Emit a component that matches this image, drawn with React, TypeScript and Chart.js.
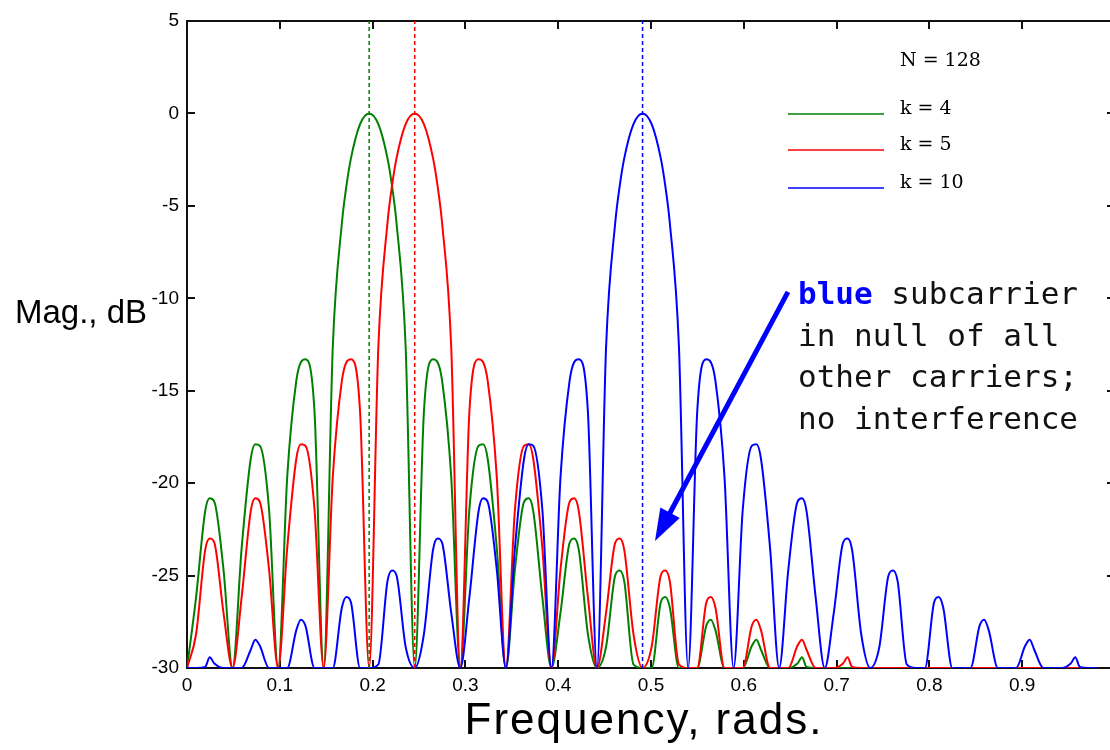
import React, { useEffect, useRef } from 'react';
import { Chart, registerables } from 'chart.js';

Chart.register(...registerables);

// ---------- data ----------
// frequency samples, rads (shared by all three sub-carriers)
const FREQ = [
  0, 0.0098, 0.0196, 0.0245, 0.0295, 0.0393,
  0.0491, 0.0589, 0.0687, 0.0736, 0.0785, 0.0884,
  0.0982, 0.1080, 0.1178, 0.1227, 0.1276, 0.1374,
  0.1473, 0.1571, 0.1669, 0.1718, 0.1767, 0.1865,
  0.1963, 0.2062, 0.2160, 0.2209, 0.2258, 0.2356,
  0.2454, 0.2553, 0.2651, 0.2700, 0.2749, 0.2847,
  0.2945, 0.3043, 0.3142, 0.3191, 0.3240, 0.3338,
  0.3436, 0.3534, 0.3632, 0.3682, 0.3731, 0.3829,
  0.3927, 0.4025, 0.4123, 0.4172, 0.4222, 0.4320,
  0.4418, 0.4516, 0.4614, 0.4663, 0.4712, 0.4811,
  0.4909, 0.5007, 0.5105, 0.5154, 0.5203, 0.5301,
  0.5400, 0.5498, 0.5596, 0.5645, 0.5694, 0.5792,
  0.5890, 0.5989, 0.6087, 0.6136, 0.6185, 0.6283,
  0.6381, 0.6480, 0.6578, 0.6627, 0.6676, 0.6774,
  0.6872, 0.6970, 0.7069, 0.7118, 0.7167, 0.7265,
  0.7363, 0.7461, 0.7559, 0.7609, 0.7658, 0.7756,
  0.7854, 0.7952, 0.8050, 0.8099, 0.8149, 0.8247,
  0.8345, 0.8443, 0.8541, 0.8590, 0.8639, 0.8738,
  0.8836, 0.8934, 0.9032, 0.9081, 0.9130, 0.9228,
  0.9327, 0.9425, 0.9523, 0.9572, 0.9621, 0.9719,
  0.9817,
];

// magnitude, dB  (k = 4, green)
const GREEN_K4 = [
  -30, -26.16, -21.51, -20.82, -21.01, -24.66,
  -30, -23.50, -18.68, -17.90, -17.98, -21.41,
  -30, -19.66, -14.46, -13.46, -13.30, -16.14,
  -30, -12.62, -5.94, -3.92, -2.42, -0.58,
  0, -0.58, -2.42, -3.92, -5.94, -12.62,
  -30, -16.14, -13.30, -13.46, -14.46, -19.66,
  -30, -21.41, -17.98, -17.90, -18.68, -23.50,
  -30, -24.66, -21.01, -20.82, -21.51, -26.16,
  -30, -27.00, -23.23, -22.99, -23.61, -28.16,
  -30, -28.85, -25.00, -24.72, -25.31, -29.80,
  -30, -30, -26.46, -26.16, -26.73, -30,
  -30, -30, -27.71, -27.39, -27.95, -30,
  -30, -30, -28.80, -28.47, -29.01, -30,
  -30, -30, -29.76, -29.42, -29.94, -30,
  -30, -30, -30, -30, -30, -30,
  -30, -30, -30, -30, -30, -30,
  -30, -30, -30, -30, -30, -30,
  -30, -30, -30, -30, -30, -30,
  -30, -30, -30, -30, -30, -30,
  -30, -30, -30, -30, -30, -30,
  -30,
];

// magnitude, dB  (k = 5, red)
const RED_K5 = [
  -30, -28.16, -23.61, -22.99, -23.23, -27.00,
  -30, -26.16, -21.51, -20.82, -21.01, -24.66,
  -30, -23.50, -18.68, -17.90, -17.98, -21.41,
  -30, -19.66, -14.46, -13.46, -13.30, -16.14,
  -30, -12.62, -5.94, -3.92, -2.42, -0.58,
  0, -0.58, -2.42, -3.92, -5.94, -12.62,
  -30, -16.14, -13.30, -13.46, -14.46, -19.66,
  -30, -21.41, -17.98, -17.90, -18.68, -23.50,
  -30, -24.66, -21.01, -20.82, -21.51, -26.16,
  -30, -27.00, -23.23, -22.99, -23.61, -28.16,
  -30, -28.85, -25.00, -24.72, -25.31, -29.80,
  -30, -30, -26.46, -26.16, -26.73, -30,
  -30, -30, -27.71, -27.39, -27.95, -30,
  -30, -30, -28.80, -28.47, -29.01, -30,
  -30, -30, -29.76, -29.42, -29.94, -30,
  -30, -30, -30, -30, -30, -30,
  -30, -30, -30, -30, -30, -30,
  -30, -30, -30, -30, -30, -30,
  -30, -30, -30, -30, -30, -30,
  -30, -30, -30, -30, -30, -30,
  -30,
];

// magnitude, dB  (k = 10, blue)
const BLUE_K10 = [
  -30, -30, -29.94, -29.42, -29.76, -30,
  -30, -30, -29.01, -28.47, -28.80, -30,
  -30, -30, -27.95, -27.39, -27.71, -30,
  -30, -30, -26.73, -26.16, -26.46, -30,
  -30, -29.80, -25.31, -24.72, -25.00, -28.85,
  -30, -28.16, -23.61, -22.99, -23.23, -27.00,
  -30, -26.16, -21.51, -20.82, -21.01, -24.66,
  -30, -23.50, -18.68, -17.90, -17.98, -21.41,
  -30, -19.66, -14.46, -13.46, -13.30, -16.14,
  -30, -12.62, -5.94, -3.92, -2.42, -0.58,
  0, -0.58, -2.42, -3.92, -5.94, -12.62,
  -30, -16.14, -13.30, -13.46, -14.46, -19.66,
  -30, -21.41, -17.98, -17.90, -18.68, -23.50,
  -30, -24.66, -21.01, -20.82, -21.51, -26.16,
  -30, -27.00, -23.23, -22.99, -23.61, -28.16,
  -30, -28.85, -25.00, -24.72, -25.31, -29.80,
  -30, -30, -26.46, -26.16, -26.73, -30,
  -30, -30, -27.71, -27.39, -27.95, -30,
  -30, -30, -28.80, -28.47, -29.01, -30,
  -30, -30, -29.76, -29.42, -29.94, -30,
  -30,
];

// sub-carrier centre frequencies (dashed markers)
const PEAK_FREQ = [0.1963, 0.2454, 0.4909];

const SERIES_LABELS = ['k = 4', 'k = 5', 'k = 10'];
const SERIES_COLORS = ['#008000', '#ff0000', '#0000ff'];
const LEGEND_TITLE = 'N = 128';

const X_TICK_VALUES = [0, 0.1, 0.2, 0.3, 0.4, 0.5, 0.6, 0.7, 0.8, 0.9];
const X_TICK_LABELS = ['0', '0.1', '0.2', '0.3', '0.4', '0.5', '0.6', '0.7', '0.8', '0.9'];
const Y_TICK_VALUES = [-30, -25, -20, -15, -10, -5, 0, 5];
const Y_TICK_LABELS = ['-30', '-25', '-20', '-15', '-10', '-5', '0', '5'];

const X_TITLE = 'Frequency, rads.';
const Y_TITLE = 'Mag., dB';

const NOTE_LINES = [
  [{ text: 'blue', bold: true, color: '#0000ff' }, { text: ' subcarrier', bold: false, color: '#111111' }],
  [{ text: 'in null of all', bold: false, color: '#111111' }],
  [{ text: 'other carriers;', bold: false, color: '#111111' }],
  [{ text: 'no interference', bold: false, color: '#111111' }],
];
// arrow, in data units: [freq, dB]
const ARROW_FROM = [0.6476, -9.65];
const ARROW_TO = [0.5043, -23.13];

// ---------- layout constants ----------
const X_MIN = 0;
const X_MAX = 1;
const Y_MIN = -30;
const Y_MAX = 5;
const SANS = '"Liberation Sans", Arial, sans-serif';
const SERIF = '"DejaVu Serif", serif';
const MONO = '"DejaVu Sans Mono", monospace';

const framePlugin = {
  id: 'frame',
  beforeDatasetsDraw(chart: any) {
    const { ctx, chartArea: a, scales } = chart;
    const xs = scales.x;
    const ys = scales.y;
    ctx.save();
    ctx.strokeStyle = '#111111';
    ctx.lineWidth = 2;
    ctx.setLineDash([]);
    ctx.strokeRect(a.left, a.top, a.right - a.left, a.bottom - a.top);
    ctx.beginPath();
    X_TICK_VALUES.forEach((v) => {
      const px = Math.round(xs.getPixelForValue(v));
      ctx.moveTo(px, a.bottom);
      ctx.lineTo(px, a.bottom - 8);
      ctx.moveTo(px, a.top);
      ctx.lineTo(px, a.top + 8);
    });
    Y_TICK_VALUES.forEach((v) => {
      const py = Math.round(ys.getPixelForValue(v));
      ctx.moveTo(a.left, py);
      ctx.lineTo(a.left + 8, py);
      ctx.moveTo(a.right, py);
      ctx.lineTo(a.right - 8, py);
    });
    ctx.stroke();
    ctx.restore();
  },
};

const notesPlugin = {
  id: 'notes',
  afterDraw(chart: any) {
    const { ctx, scales } = chart;
    const xs = scales.x;
    const ys = scales.y;
    ctx.save();
    ctx.setLineDash([]);

    // legend
    ctx.fillStyle = '#000000';
    ctx.textAlign = 'left';
    ctx.textBaseline = 'middle';
    ctx.font = `19px ${SERIF}`;
    ctx.fillText(LEGEND_TITLE, 900, 61);
    const rows = [114, 150, 188];
    SERIES_LABELS.forEach((lab, i) => {
      const ly = rows[i];
      ctx.strokeStyle = SERIES_COLORS[i];
      ctx.lineWidth = 1.5;
      ctx.beginPath();
      ctx.moveTo(788, ly);
      ctx.lineTo(884, ly);
      ctx.stroke();
      ctx.fillStyle = '#000000';
      ctx.fillText(lab, 900, ly - 5);
    });

    // axis titles
    ctx.fillStyle = '#000000';
    ctx.textAlign = 'left';
    ctx.textBaseline = 'middle';
    ctx.font = `33px ${SANS}`;
    ctx.fillText(Y_TITLE, 15, 314);
    ctx.font = `44px ${SANS}`;
    ctx.textAlign = 'center';
    (ctx as any).letterSpacing = '2px';
    ctx.fillText(X_TITLE, 644, 722);
    (ctx as any).letterSpacing = '0px';

    // arrow
    const tx = xs.getPixelForValue(ARROW_FROM[0]);
    const ty = ys.getPixelForValue(ARROW_FROM[1]);
    const hx = xs.getPixelForValue(ARROW_TO[0]);
    const hy = ys.getPixelForValue(ARROW_TO[1]);
    const dx = hx - tx;
    const dy = hy - ty;
    const len = Math.hypot(dx, dy);
    const ux = dx / len;
    const uy = dy / len;
    const headLen = 32;
    const headHalf = 11;
    const bx = hx - ux * headLen;
    const by = hy - uy * headLen;
    ctx.strokeStyle = '#0000ff';
    ctx.fillStyle = '#0000ff';
    ctx.lineWidth = 5;
    ctx.lineCap = 'butt';
    ctx.beginPath();
    ctx.moveTo(tx, ty);
    ctx.lineTo(bx + ux * 2, by + uy * 2);
    ctx.stroke();
    ctx.beginPath();
    ctx.moveTo(hx, hy);
    ctx.lineTo(bx - uy * headHalf, by + ux * headHalf);
    ctx.lineTo(bx + uy * headHalf, by - ux * headHalf);
    ctx.closePath();
    ctx.fill();

    // note text
    ctx.textAlign = 'left';
    ctx.textBaseline = 'alphabetic';
    NOTE_LINES.forEach((line, i) => {
      let cx = 798;
      const baseY = 304 + i * 41.5;
      line.forEach((seg) => {
        ctx.font = `${seg.bold ? 'bold ' : ''}31px ${MONO}`;
        ctx.fillStyle = seg.color;
        ctx.fillText(seg.text, cx, baseY);
        cx += ctx.measureText(seg.text).width;
      });
    });
    ctx.restore();
  },
};

export default function App() {
  const canvasRef = useRef<HTMLCanvasElement | null>(null);

  useEffect(() => {
    const canvas = canvasRef.current;
    if (!canvas) return;
    const curves = [GREEN_K4, RED_K5, BLUE_K10];
    const datasets: any[] = [
      ...curves.map((ys, i) => ({
        label: SERIES_LABELS[i],
        data: FREQ.map((x, j) => ({ x, y: ys[j] })),
        borderColor: SERIES_COLORS[i],
        backgroundColor: SERIES_COLORS[i],
        borderWidth: 2,
        pointRadius: 0,
        fill: false,
        cubicInterpolationMode: 'monotone',
        order: 3 - i,
      })),
      ...PEAK_FREQ.map((f, i) => ({
        label: SERIES_LABELS[i] + ' centre',
        data: [
          { x: f, y: Y_MIN },
          { x: f, y: Y_MAX },
        ],
        borderColor: SERIES_COLORS[i],
        borderWidth: 1.5,
        borderDash: [4, 3],
        pointRadius: 0,
        fill: false,
        order: 0,
      })),
    ];

    const chart = new Chart(canvas, {
      type: 'line',
      data: { datasets },
      options: {
        responsive: false,
        animation: false,
        devicePixelRatio: 1,
        events: [],
        layout: { padding: { left: 0, right: 15, top: 21, bottom: 0 } },
        plugins: {
          legend: { display: false },
          tooltip: { enabled: false },
          title: { display: false },
        },
        scales: {
          x: {
            type: 'linear',
            min: X_MIN,
            max: X_MAX,
            grid: { display: false, drawTicks: false },
            border: { display: false },
            afterBuildTicks: (s: any) => {
              s.ticks = X_TICK_VALUES.map((v) => ({ value: v }));
            },
            afterFit: (s: any) => {
              s.height = 82;
            },
            ticks: {
              autoSkip: false,
              maxRotation: 0,
              minRotation: 0,
              padding: 6,
              color: '#000000',
              font: { family: SANS, size: 19 },
              callback: (_v: any, i: number) => X_TICK_LABELS[i] ?? '',
            },
          },
          y: {
            type: 'linear',
            min: Y_MIN,
            max: Y_MAX,
            grid: { display: false, drawTicks: false },
            border: { display: false },
            afterBuildTicks: (s: any) => {
              s.ticks = Y_TICK_VALUES.map((v) => ({ value: v }));
            },
            afterFit: (s: any) => {
              s.width = 187;
            },
            ticks: {
              padding: 8,
              color: '#000000',
              font: { family: SANS, size: 19 },
              callback: (_v: any, i: number) => Y_TICK_LABELS[i] ?? '',
            },
          },
        },
      } as any,
      plugins: [framePlugin, notesPlugin],
    });
    return () => chart.destroy();
  }, []);

  return (
    <div
      style={{
        position: 'fixed',
        left: 0,
        top: 0,
        width: 1110,
        height: 750,
        overflow: 'hidden',
        background: '#ffffff',
      }}
    >
      <canvas ref={canvasRef} width={1130} height={750} style={{ display: 'block' }} />
    </div>
  );
}
